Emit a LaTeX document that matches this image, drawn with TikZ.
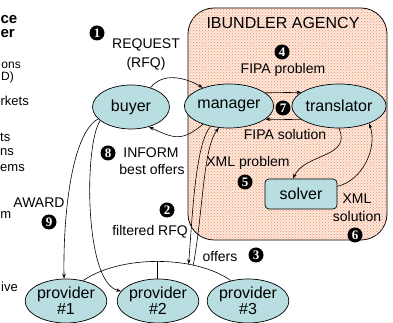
\documentclass[tikz,border=0pt]{standalone}
\usepackage{fontspec}
\setmainfont{Liberation Sans}
\newfontfamily\numfont{Liberation Serif}
\usetikzlibrary{shapes.geometric,arrows.meta,patterns}
\definecolor{nodefill}{RGB}{185,222,226}
\definecolor{agencyfill}{RGB}{253,232,220}
\definecolor{speck}{RGB}{240,140,100}
\begin{document}
\begin{tikzpicture}[x=1pt,y=1pt,
  ell/.style={ellipse, draw, line width=0.7pt, fill=nodefill, inner sep=0pt, minimum width=77pt, minimum height=44pt, font=\fontsize{16}{16}\selectfont, align=center},
  lbl/.style={font=\fontsize{14}{16}\selectfont, inner sep=0pt},
  frag/.style={font=\fontsize{13}{15}\selectfont, anchor=east, inner sep=0pt},
  sfrag/.style={font=\fontsize{12}{13}\selectfont, anchor=east, inner sep=0pt},
  bfrag/.style={font=\bfseries\fontsize{15}{15}\selectfont, anchor=east, inner sep=0pt},
  num/.style={circle, fill=black, text=white, inner sep=0pt, minimum size=15pt, font=\numfont\bfseries\fontsize{13}{13}\selectfont},
  arr/.style={line width=0.6pt, -{Stealth[length=5pt,width=3.5pt]}},
  ln/.style={line width=0.6pt}]
\useasboundingbox (0,0) rectangle (393,323);

% agency box
\node[draw, line width=0.8pt, rounded corners=26pt, fill=agencyfill,
      postaction={pattern=crosshatch dots, pattern color=speck},
      minimum width=199pt, minimum height=232pt, inner sep=0pt] (agency) at (287.5,199) {};
\node[font=\fontsize{16}{16}\selectfont, inner sep=0pt] (title) at (283,300) {IBUNDLER AGENCY};

% nodes
\node[ell] (buyer) at (131,216) {buyer};
\node[ell, minimum width=76pt] (manager) at (229,217) {manager};
\node[ell, minimum width=78pt] (translator) at (339,217) {translator};
\node[draw, line width=0.7pt, fill=nodefill, rounded corners=4pt, minimum width=72pt, minimum height=30pt, inner sep=0pt, font=\fontsize{16}{16}\selectfont] (solver) at (301,129) {solver};
\node[ell] (p1) at (66,22) {provider\\\#1};
\node[ell] (p2) at (158,22) {provider\\\#2};
\node[ell] (p3) at (248,22) {provider\\\#3};

% labels
\node[lbl] (l1a) at (146,278) {REQUEST};
\node[lbl] (l1b) at (146,259) {(RFQ)};
\node[lbl] (l4) at (283,253) {FIPA problem};
\node[lbl] (l7) at (285,188) {FIPA solution};
\node[lbl] (l5) at (248,160) {XML problem};
\node[lbl, align=center, font=\fontsize{14}{18}\selectfont] (l6) at (357,115) {XML\\solution};
\node[lbl] (l8a) at (151,170) {INFORM};
\node[lbl] (l8b) at (152,153) {best offers};
\node[lbl] (l2) at (150,91) {filtered RFQ};
\node[lbl] (l3) at (220,66) {offers};
\node[lbl] (l9) at (39,120) {AWARD};

% numbers
\node[num] (n1) at (97,290) {1};
\node[num] (n2) at (167,113) {2};
\node[num] (n3) at (256,68) {3};
\node[num] (n4) at (282,271) {4};
\node[num] (n5) at (245,141) {5};
\node[num] (n6) at (355,88) {6};
\node[num] (n7) at (283,215) {7};
\node[num] (n8) at (108,170) {8};
\node[num] (n9) at (49,101) {9};

% left fragments
\node[bfrag] (f1) at (17.5,303) {ce};
\node[bfrag] (f2) at (15,289) {er};
\node[sfrag] (f3) at (21,258) {ons};
\node[sfrag] (f4) at (14,246) {D)};
\node[frag] (f5) at (29,222) {rkets};
\node[frag] (f6) at (10.5,186) {ts};
\node[frag] (f7) at (14,171) {ns};
\node[frag] (f8) at (25,155) {ems};
\node[frag] (f9) at (11.5,108) {m};
\node[frag] (f10) at (18,36) {ive};

% tree connecting providers
\draw[ln] (p1.50) .. controls (120,68) and (195,68) .. (p3.130)
  coordinate[pos=0.5] (treetop)
  coordinate[pos=0.69] (rfqend)
  coordinate[pos=0.72] (offstart);
\draw[ln] (treetop) -- (treetop |- p2.north);

% connectors
\draw[arr] (buyer.45) to[out=50,in=150] (manager.145);
\draw[arr] (manager.215) to[out=220,in=-25,looseness=1.3] (buyer.-48);
\draw[arr] (manager.20) -- (translator.160);
\draw[arr] (translator.200) -- (manager.-20);
\draw[arr] (translator.south) .. controls (352,165) and (305,170) .. ([xshift=-8pt]solver.north);
\draw[arr] (solver.12) .. controls (362,142) and (378,175) .. (translator.-30);
\draw[arr] (manager.228) .. controls (195,180) and (192,100) .. (rfqend);
\draw[arr] (offstart) .. controls (203,110) and (203,175) .. (manager.245);
\draw[arr] (buyer.200) .. controls (72,190) and (63,110) .. (p1.95);
\draw[arr] (buyer.204) .. controls (84,180) and (84,40) .. (p2.165);
\end{tikzpicture}
\end{document}
